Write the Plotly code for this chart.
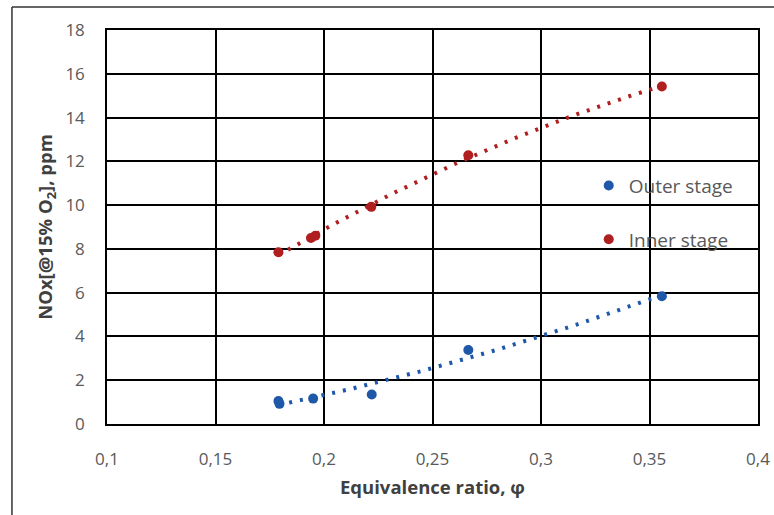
import numpy as np
import plotly.graph_objects as go

# Data
outer_phi = [0.179, 0.1795, 0.195, 0.222, 0.2665, 0.3557]
outer_nox = [1.05, 0.92, 1.16, 1.35, 3.38, 5.84]
inner_phi = [0.179, 0.194, 0.196, 0.2218, 0.2665, 0.3557]
inner_nox = [7.85, 8.5, 8.6, 9.92, 12.28, 15.42]

x_ticks = [0.1, 0.15, 0.2, 0.25, 0.3, 0.35, 0.4]
x_tick_labels = ["0,1", "0,15", "0,2", "0,25", "0,3", "0,35", "0,4"]
y_ticks = [0, 2, 4, 6, 8, 10, 12, 14, 16, 18]

blue = "#1F58A8"
red = "#B01F1F"

def trend(xs, ys, deg=2):
    c = np.polyfit(xs, ys, deg)
    xx = np.linspace(min(xs), max(xs), 100)
    return xx, np.polyval(c, xx)

fig = go.Figure()

ox, oy = trend(outer_phi, outer_nox)
ix, iy = trend(inner_phi, inner_nox)

fig.add_trace(go.Scatter(x=ox, y=oy, mode="lines", showlegend=False,
                         line=dict(color=blue, width=4, dash="3px,8px"),
                         hoverinfo="skip"))
fig.add_trace(go.Scatter(x=ix, y=iy, mode="lines", showlegend=False,
                         line=dict(color=red, width=4, dash="3px,8px"),
                         hoverinfo="skip"))

fig.add_trace(go.Scatter(x=outer_phi, y=outer_nox, mode="markers", name="Outer stage",
                         legendgroup="a",
                         marker=dict(color=blue, size=10)))
fig.add_trace(go.Scatter(x=inner_phi, y=inner_nox, mode="markers", name="Inner stage",
                         legendgroup="b",
                         marker=dict(color=red, size=10)))

FONT = "Open Sans, Noto Sans, sans-serif"
tick_font = dict(family=FONT, size=17, color="#595959")
title_font = dict(family=FONT, size=18.5, color="#404040")

fig.update_layout(
    width=774, height=515,
    margin=dict(l=107, r=16, t=30, b=91),
    paper_bgcolor="white", plot_bgcolor="white",
    showlegend=True,
    legend=dict(x=0.74, y=0.653, xanchor="left", yanchor="top",
                bgcolor="rgba(0,0,0,0)", tracegroupgap=26,
                font=dict(family=FONT, size=19, color="#595959"),
                itemwidth=30),
    xaxis=dict(range=[0.1, 0.4], tickvals=x_ticks, ticktext=x_tick_labels,
               showgrid=True, gridcolor="black", gridwidth=1.5,
               showline=True, linecolor="black", linewidth=1.5, mirror=True,
               zeroline=False, ticks="", tickfont=tick_font, ticklabelstandoff=19,
               automargin=False,
               title=dict(text="<b>Equivalence ratio, φ</b>", font=title_font, standoff=12)),
    yaxis=dict(range=[0, 18], tickvals=y_ticks,
               showgrid=True, gridcolor="black", gridwidth=1.5,
               showline=True, linecolor="black", linewidth=1.5, mirror=True,
               zeroline=False, ticks="", tickfont=tick_font, ticklabelstandoff=17,
               automargin=False,
               title=dict(text="<b>NOx[@15% O<sub>2</sub>], ppm</b>", font=title_font, standoff=8)),
    shapes=[
        dict(type="line", xref="paper", yref="paper", x0=-0.146, x1=1.1, y0=1.0584, y1=1.0584,
             line=dict(color="#333333", width=1.5)),
        dict(type="line", xref="paper", yref="paper", x0=-0.146, x1=-0.146, y0=1.0584, y1=-0.3,
             line=dict(color="#333333", width=1.5)),
    ],
)

fig.write_html("out.html", config={"displayModeBar": False},
               post_script="document.body.style.margin='0px';")
